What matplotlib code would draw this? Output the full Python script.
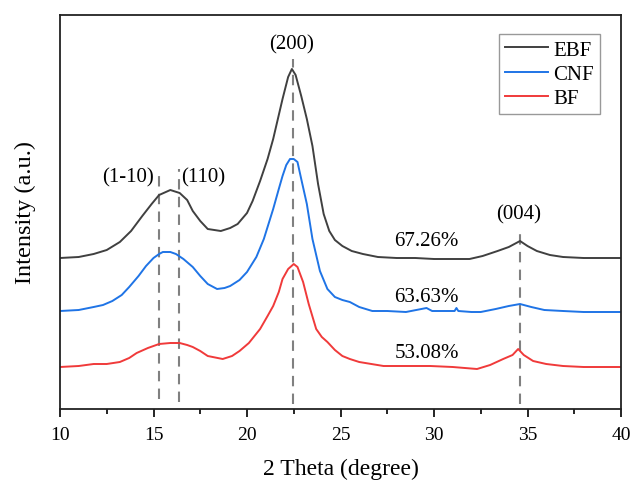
import matplotlib
matplotlib.use("Agg")
import matplotlib.pyplot as plt
from matplotlib.ticker import MultipleLocator

plt.rcParams['font.family'] = ['Liberation Serif', 'DejaVu Serif']
plt.rcParams['mathtext.fontset'] = 'stix'

# ---- data (arbitrary intensity units, stacked) ----
ebf_x = [10.0, 11.0, 11.8, 12.5, 13.2, 13.8, 14.4, 14.9, 15.3, 15.9, 16.4, 16.8,
         17.1, 17.5, 17.9, 18.6, 19.1, 19.5, 20.0, 20.3, 20.7, 21.1, 21.4, 21.9,
         22.2, 22.4, 22.6, 22.9, 23.2, 23.5, 23.8, 24.1, 24.4, 24.7, 25.1, 25.6,
         26.2, 27.0, 28.0, 29.0, 30.0, 31.0, 31.9, 32.6, 33.4, 34.0, 34.6, 35.0,
         35.5, 36.2, 36.9, 38.0, 39.0, 40.0]
ebf_y = [151, 152, 155, 159, 167, 178, 193, 205, 214, 219, 216, 209,
         198, 188, 180, 178, 181, 185, 196, 208, 228, 250, 270, 310,
         332, 340, 334, 313, 290, 263, 225, 195, 178, 169, 163, 158,
         155, 152, 151, 151, 150, 150, 150, 153, 158, 162, 168, 163,
         158, 154, 152, 151, 151, 151]

cnf_x = [10.0, 11.0, 11.8, 12.3, 12.8, 13.3, 13.7, 14.2, 14.6, 15.0, 15.3, 15.5,
         15.9, 16.2, 16.6, 17.1, 17.5, 17.9, 18.4, 18.8, 19.1, 19.6, 20.0, 20.5,
         20.9, 21.2, 21.4, 21.7, 21.9, 22.1, 22.3, 22.5, 22.7, 22.9, 23.2, 23.5,
         23.9, 24.3, 24.7, 25.1, 25.5, 26.0, 26.7, 27.5, 28.5, 29.6, 29.9, 30.5,
         31.1, 31.2, 31.3, 32.0, 32.5, 33.3, 34.0, 34.6, 35.2, 35.9, 36.9, 38.0,
         39.0, 40.0]
cnf_y = [98, 99, 102, 104, 108, 114, 122, 133, 143, 151, 155, 157,
         157, 155, 150, 142, 133, 125, 120, 121, 123, 129, 137, 152,
         170, 188, 200, 220, 233, 244, 250, 250, 247, 230, 205, 170,
         138, 120, 112, 109, 107, 102, 98, 98, 97, 101, 98, 98,
         98, 101, 98, 97, 97, 100, 103, 105, 102, 99, 98, 97,
         97, 97]

bf_x = [10.0, 11.0, 11.8, 12.5, 13.2, 13.7, 14.1, 14.7, 15.3, 15.9, 16.4, 16.8,
        17.1, 17.5, 17.9, 18.7, 19.2, 19.6, 20.1, 20.7, 21.1, 21.4, 21.7, 21.9,
        22.2, 22.5, 22.7, 23.0, 23.3, 23.7, 24.0, 24.3, 24.7, 25.1, 25.5, 26.0,
        27.3, 28.5, 29.8, 31.0, 32.3, 33.0, 33.7, 34.2, 34.5, 34.8, 35.3, 36.0,
        36.9, 38.0, 39.0, 40.0]
bf_y = [42, 43, 45, 45, 47, 51, 56, 61, 65, 66, 66, 64,
        62, 58, 53, 50, 53, 58, 66, 80, 93, 103, 117, 130,
        140, 145, 142, 127, 105, 80, 72, 67, 59, 53, 50, 47,
        43, 43, 43, 42, 40, 44, 50, 54, 60, 54, 48, 45,
        43, 42, 42, 42]

series_names = ['EBF', 'CNF', 'BF']
series_colors = ['#404040', '#1f74e6', '#f03a3a']

peak_pos = [15.3, 16.35, 22.44, 34.6]
peak_top = [240, 240, 350, 181]
peak_bottom = [10, 7, 5, 5]
peak_labels = ['(1-10)', '(110)', '(200)', '(004)']
peak_label_x = [13.65, 17.65, 22.4, 34.55]
peak_label_y = [232, 232, 365, 195]

crystallinity = ['67.26%', '63.63%', '53.08%']
cryst_x = [29.6, 29.6, 29.6]
cryst_y = [168, 113, 57]

# ---- figure ----
fig = plt.figure(figsize=(6.34, 4.81), dpi=100)
ax = fig.add_axes([60/634, 1 - 410/481, 561/634, 394/481])

for xs, ys, name, col in zip([ebf_x, cnf_x, bf_x], [ebf_y, cnf_y, bf_y],
                             series_names, series_colors):
    ax.plot(xs, ys, color=col, lw=1.4, label=name)

for p, t, b in zip(peak_pos, peak_top, peak_bottom):
    ax.plot([p, p], [b, t], color='#808080', lw=1.5, ls=(0, (5, 3.5)), zorder=0.5)

for lab, lx, ly in zip(peak_labels, peak_label_x, peak_label_y):
    ax.text(lx, ly, lab, ha='center', va='center', fontsize=15)

for lab, lx, ly in zip(crystallinity, cryst_x, cryst_y):
    ax.text(lx, ly, lab, ha='center', va='center', fontsize=15)

ax.set_xlim(10, 40)
ax.set_ylim(0, 394)
ax.xaxis.set_major_locator(MultipleLocator(5))
ax.xaxis.set_minor_locator(MultipleLocator(2.5))
ax.tick_params(axis='x', which='major', direction='out', length=6, width=1.2,
               labelsize=14, top=False, pad=6)
ax.tick_params(axis='x', which='minor', direction='out', length=3.5, width=1.2, top=False)
ax.set_yticks([])
for s in ax.spines.values():
    s.set_linewidth(1.3)
    s.set_color('#222222')

ax.set_xlabel('2 Theta (degree)', fontsize=17, labelpad=11)
ax.set_ylabel('Intensity (a.u.)', fontsize=17.5, labelpad=17)

leg = ax.legend(loc='upper right', bbox_to_anchor=(0.963, 0.952), borderaxespad=0,
                fontsize=15, frameon=True, fancybox=False, handlelength=2.05,
                handletextpad=0.25, labelspacing=0.22, borderpad=0.3)
leg.get_frame().set_edgecolor('#808080')
leg.get_frame().set_linewidth(1.0)

fig.savefig('out.png', dpi=100)
